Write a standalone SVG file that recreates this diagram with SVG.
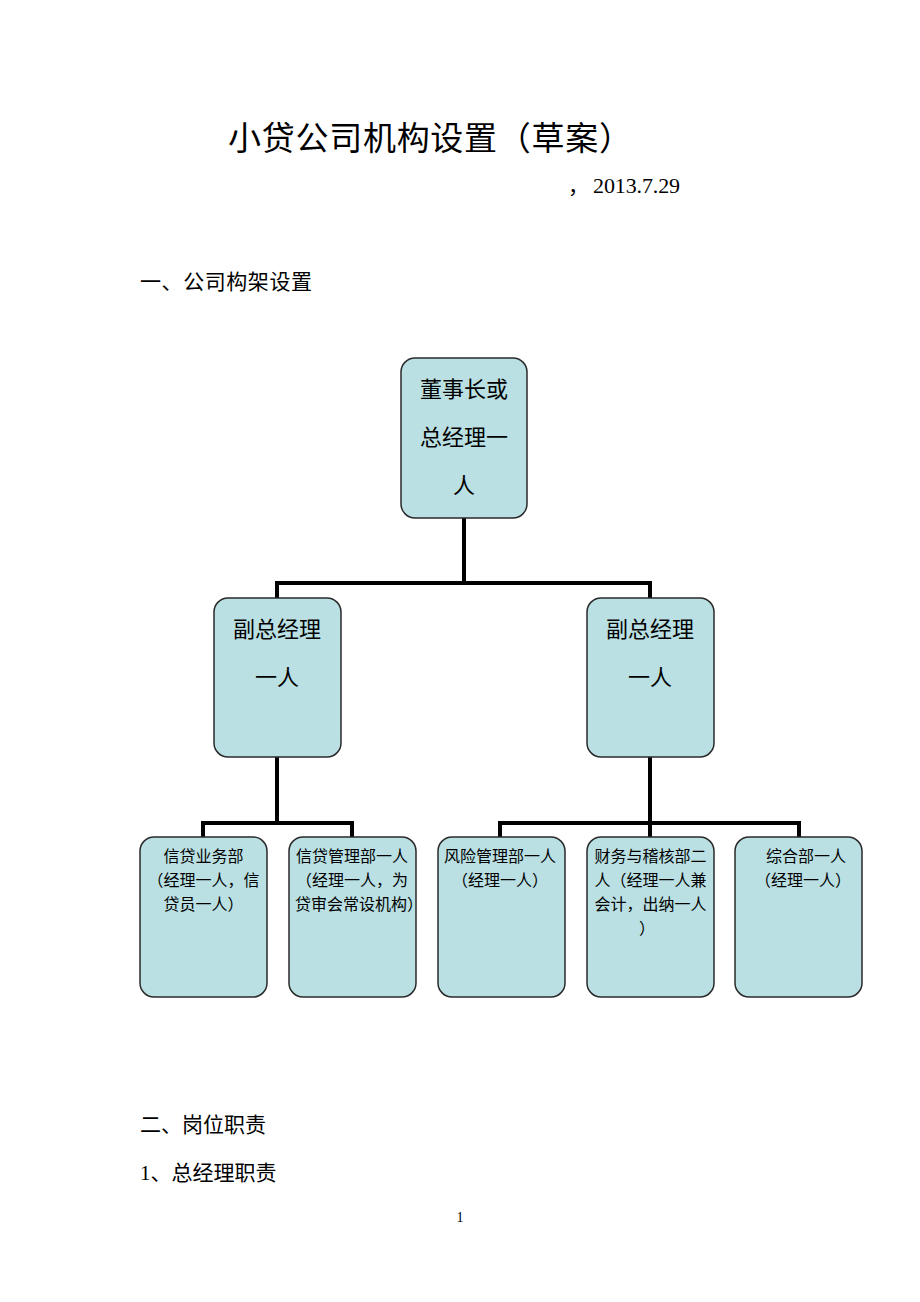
<svg xmlns="http://www.w3.org/2000/svg" width="920" height="1302" viewBox="0 0 920 1302">
<style>
text{font-family:"Liberation Serif","Noto Sans CJK SC",serif;fill:#000;text-spacing-trim:space-all}
.box{fill:#bae0e3;stroke:#2a2a2a;stroke-width:1.5}
.big{font-size:22px;text-anchor:middle}
.sm{font-size:16px;text-anchor:middle}
.conn{fill:none;stroke:#000;stroke-width:4}
</style>
<defs>
<clipPath id="c2"><rect x="289" y="837" width="127" height="160"/></clipPath>
</defs>
<rect width="920" height="1302" fill="#fff"/>
<text x="228" y="150" font-size="33" textLength="404" lengthAdjust="spacing">小贷公司机构设置（草案）</text>
<text x="568" y="193" font-size="21">，</text>
<text x="593" y="193" font-size="22" textLength="87" lengthAdjust="spacing">2013.7.29</text>
<text x="140" y="289" font-size="21" textLength="172" lengthAdjust="spacing">一、公司构架设置</text>

<g id="connectors">
<path class="conn" d="M464 518V583M277 598V583H650V598"/>
<path class="conn" d="M277 757V823M203 837V823H352V837"/>
<path class="conn" d="M650 757V823M500 837V823H799V837M650 823V837"/>
</g>

<g id="n-top">
<rect class="box" x="401" y="358" width="126" height="160" rx="14"/>
<text class="big" x="464" y="397">董事长或</text>
<text class="big" x="464" y="445">总经理一</text>
<text class="big" x="464" y="493">人</text>
</g>
<g id="n-vp1">
<rect class="box" x="214" y="598" width="127" height="159" rx="14"/>
<text class="big" x="277" y="637">副总经理</text>
<text class="big" x="277" y="685">一人</text>
</g>
<g id="n-vp2">
<rect class="box" x="587" y="598" width="127" height="159" rx="14"/>
<text class="big" x="650" y="637">副总经理</text>
<text class="big" x="650" y="685">一人</text>
</g>
<g id="n-d1">
<rect class="box" x="140" y="837" width="127" height="160" rx="14"/>
<text class="sm" x="203.5" y="862">信贷业务部</text>
<text class="sm" x="203.5" y="886" textLength="112" lengthAdjust="spacing">（经理一人，信</text>
<text class="sm" x="203.5" y="910" textLength="80" lengthAdjust="spacing">贷员一人）</text>
</g>
<g id="n-d2">
<rect class="box" x="289" y="837" width="127" height="160" rx="14"/>
<g clip-path="url(#c2)">
<text font-size="16" x="296" y="862">信贷管理部一人</text>
<text font-size="16" x="296" y="886" textLength="112" lengthAdjust="spacing">（经理一人，为</text>
<text font-size="16" x="295" y="910" textLength="128" lengthAdjust="spacing">贷审会常设机构）</text>
</g>
</g>
<g id="n-d3">
<rect class="box" x="438" y="837" width="127" height="160" rx="14"/>
<text class="sm" x="500" y="862">风险管理部一人</text>
<text class="sm" x="500" y="886" textLength="96" lengthAdjust="spacing">（经理一人）</text>
</g>
<g id="n-d4">
<rect class="box" x="587" y="837" width="127" height="160" rx="14"/>
<text class="sm" x="650.5" y="862">财务与稽核部二</text>
<text class="sm" x="650.5" y="886" textLength="112" lengthAdjust="spacing">人（经理一人兼</text>
<text class="sm" x="650.5" y="910" textLength="112" lengthAdjust="spacing">会计，出纳一人</text>
<text class="sm" x="647" y="934">）</text>
</g>
<g id="n-d5">
<rect class="box" x="735" y="837" width="127" height="160" rx="14"/>
<text class="sm" x="806" y="862">综合部一人</text>
<text class="sm" x="803" y="886" textLength="96" lengthAdjust="spacing">（经理一人）</text>
</g>

<text x="140" y="1132" font-size="21">二、岗位职责</text>
<text x="140" y="1180" font-size="21">1、总经理职责</text>
<text x="460" y="1222" font-size="14" text-anchor="middle">1</text>
</svg>
